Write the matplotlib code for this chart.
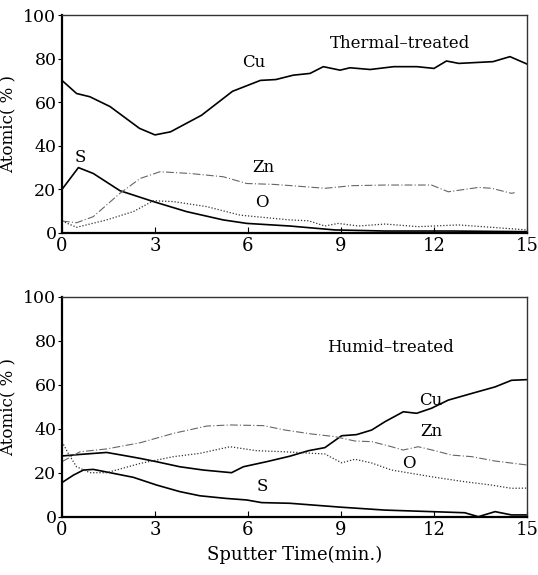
import matplotlib
matplotlib.use("Agg")
import matplotlib.pyplot as plt

plt.rcParams['font.family'] = ['DejaVu Serif']

# --- top panel: thermal-treated ---
top_cu_t = [0, 0.47, 0.9, 1.55, 2.5, 3.0, 3.5, 4.5, 5.5, 6.4, 6.9, 7.46, 8.0, 8.43, 8.97,
            9.29, 9.94, 10.7, 11.45, 12.0, 12.4, 12.8, 13.9, 14.45, 15]
top_cu = [70, 64, 62.5, 58, 48, 45, 46.4, 54, 65, 70, 70.4, 72.4, 73.2, 76.3, 74.7,
          75.8, 75, 76.3, 76.3, 75.5, 78.9, 77.8, 78.6, 80.9, 77.5]
top_s_t = [0, 0.53, 1.01, 1.87, 2.95, 4.02, 5.2, 5.96, 7.35, 8.8, 10.42, 12.57, 15]
top_s = [20, 30, 27.3, 19.4, 14.4, 9.8, 6, 4.4, 3.2, 1.4, 0.9, 0.9, 0.6]
top_zn_t = [0, 0.47, 1.01, 1.87, 2.52, 3.16, 4.13, 5.2, 5.96, 6.82, 7.41, 8.48, 9.34,
            10.42, 11.92, 12.46, 13.43, 13.86, 14.5, 14.6]
top_zn = [5.5, 4.7, 7.5, 18.2, 25, 28.1, 27.3, 25.8, 22.7, 22.3, 21.7, 20.5, 21.7,
          22, 22, 18.9, 20.9, 20.5, 18.2, 18.5]
top_o_t = [0, 0.47, 1.44, 2.3, 2.95, 3.6, 4.67, 5.74, 6.82, 7.35, 7.95, 8.48, 8.91,
           9.56, 10.42, 11.49, 12.78, 13.86, 14.72, 15]
top_o = [5.5, 2.6, 6, 9.8, 14.8, 14.4, 12.1, 8.2, 6.7, 6, 5.6, 3.2, 4.4,
         3.2, 4.1, 2.9, 3.7, 2.6, 1.7, 1.4]

# --- bottom panel: humid-treated ---
bot_cu_t = [0, 0.58, 1.44, 2.09, 2.52, 3.05, 3.8, 4.56, 5.47, 5.85, 6.6, 7.35, 7.95,
            8.48, 9.02, 9.5, 9.99, 10.42, 11.01, 11.44, 11.92, 12.46, 13.21, 13.97, 14.5, 15]
bot_cu = [27.6, 28.3, 29.2, 27.6, 26.5, 25, 22.7, 21.2, 20, 22.7, 25, 27.5, 30,
          31.4, 36.8, 37.3, 39.4, 43.2, 47.7, 47, 49.3, 53, 56, 59, 62, 62.3]
bot_zn_t = [0, 0.58, 1.44, 2.52, 3.6, 4.67, 5.42, 6.5, 7.19, 8.05, 8.8, 9.45, 10,
            10.63, 11.0, 11.49, 12.03, 12.57, 13.21, 13.97, 15]
bot_zn = [25, 29.5, 30.8, 33.6, 37.9, 41.2, 41.7, 41.4, 39.4, 37.6, 36.4, 34.4, 34.1,
          31.8, 30.3, 31.8, 30, 28, 27.3, 25.3, 23.5]
bot_o_t = [0, 0.2, 0.47, 0.9, 1.44, 2.52, 3.6, 4.45, 5.42, 6.28, 7.19, 8.48, 9.02,
           9.45, 9.99, 10.63, 11.27, 12.03, 12.99, 13.84, 14.5, 15]
bot_o = [34.1, 28.8, 22.7, 20, 20, 24.2, 27.3, 28.8, 31.8, 30, 29.5, 28.5, 24.5,
         26.1, 24.4, 21.2, 19.7, 17.9, 15.9, 14.4, 12.9, 13]
bot_s_t = [0, 0.37, 0.69, 1.01, 1.55, 2.3, 3.05, 3.8, 4.45, 5.3, 5.96, 6.44, 7.35,
           9.02, 10.42, 11.92, 12.99, 13.43, 13.97, 14.5, 15]
bot_s = [15.5, 18.9, 21.2, 21.5, 20, 17.9, 14.4, 11.4, 9.5, 8.3, 7.6, 6.4, 6.1,
         4.3, 3, 2.3, 1.8, 0, 2.3, 0.8, 0.8]

xticks = [0, 3, 6, 9, 12, 15]
yticks = [0, 20, 40, 60, 80, 100]

fig = plt.figure(figsize=(5.38, 5.75), dpi=100)
ax1 = fig.add_axes([0.1152, 0.5948, 0.8644, 0.3791])
ax2 = fig.add_axes([0.1152, 0.1014, 0.8644, 0.3826])


def draw(ax, cu_t, cu, s_t, s, zn_t, zn, o_t, o):
    ax.plot(cu_t, cu, color='black', lw=1.2)
    ax.plot(s_t, s, color='black', lw=1.2)
    ax.plot(zn_t, zn, color='#666666', lw=0.8, dashes=(7, 2, 1, 2))
    ax.plot(o_t, o, color='#333333', lw=0.9, dashes=(1, 1.5))
    ax.set_xlim(0, 15)
    ax.set_ylim(0, 100)
    ax.set_xticks(xticks)
    ax.set_yticks(yticks)
    ax.tick_params(axis='x', direction='in', length=4, labelsize=13, pad=3)
    ax.tick_params(axis='y', direction='out', length=3, labelsize=12.5, pad=1)
    for side in ['left', 'bottom']:
        ax.spines[side].set_linewidth(1.6)
    for side in ['top', 'right']:
        ax.spines[side].set_linewidth(1.0)
        ax.spines[side].set_color('#333333')
    ax.set_ylabel('Atomic( % )', fontsize=12)
    ax.yaxis.set_label_coords(-0.095, 0.5)


draw(ax1, top_cu_t, top_cu, top_s_t, top_s, top_zn_t, top_zn, top_o_t, top_o)
draw(ax2, bot_cu_t, bot_cu, bot_s_t, bot_s, bot_zn_t, bot_zn, bot_o_t, bot_o)

lab = dict(fontsize=12, ha='center', va='center')
ax1.text(10.9, 87, 'Thermal\u2013treated', **lab)
ax1.text(6.2, 78, 'Cu', **lab)
ax1.text(0.6, 34.5, 'S', **lab)
ax1.text(6.5, 30, 'Zn', **lab)
ax1.text(6.45, 14.2, 'O', **lab)

ax2.text(10.6, 77, 'Humid\u2013treated', **lab)
ax2.text(11.9, 53, 'Cu', **lab)
ax2.text(11.9, 38.5, 'Zn', **lab)
ax2.text(11.2, 24, 'O', **lab)
ax2.text(6.45, 13.5, 'S', **lab)

ax2.set_xlabel('Sputter Time(min.)', fontsize=13, labelpad=5)

fig.savefig('out.png', dpi=100)
